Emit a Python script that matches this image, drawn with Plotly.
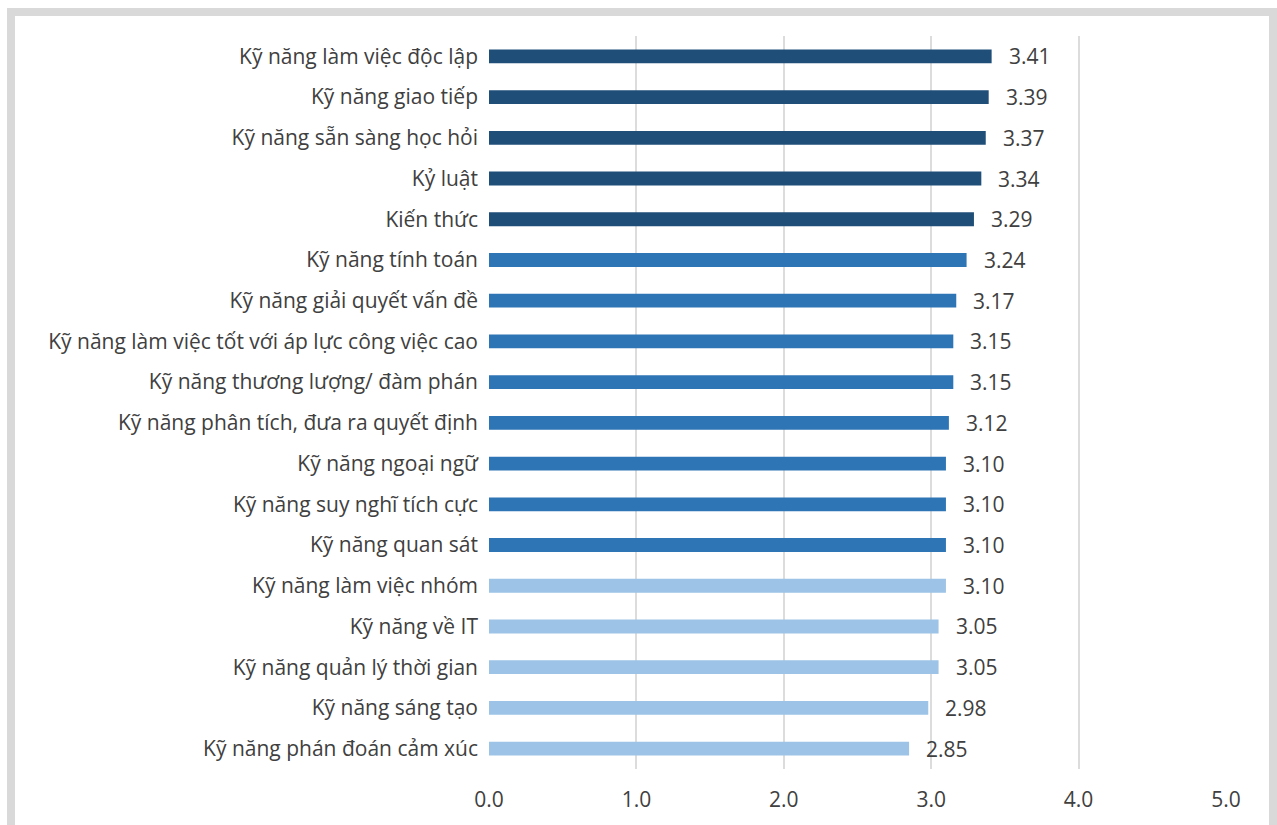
import plotly.graph_objects as go

categories = [
    "Kỹ năng làm việc độc lập",
    "Kỹ năng giao tiếp",
    "Kỹ năng sẵn sàng học hỏi",
    "Kỷ luật",
    "Kiến thức",
    "Kỹ năng tính toán",
    "Kỹ năng giải quyết vấn đề",
    "Kỹ năng làm việc tốt với áp lực công việc cao",
    "Kỹ năng thương lượng/ đàm phán",
    "Kỹ năng phân tích, đưa ra quyết định",
    "Kỹ năng ngoại ngữ",
    "Kỹ năng suy nghĩ tích cực",
    "Kỹ năng quan sát",
    "Kỹ năng làm việc nhóm",
    "Kỹ năng về IT",
    "Kỹ năng quản lý thời gian",
    "Kỹ năng sáng tạo",
    "Kỹ năng phán đoán cảm xúc",
]
values = [3.41, 3.39, 3.37, 3.34, 3.29, 3.24, 3.17, 3.15, 3.15, 3.12,
          3.10, 3.10, 3.10, 3.10, 3.05, 3.05, 2.98, 2.85]
groups = [0]*5 + [1]*8 + [2]*5
group_colors = ["#1f4e79", "#2e75b6", "#9dc3e6"]
x_ticks = [0, 1, 2, 3, 4, 5]

W, H = 1277, 825
ML, MR, MT, MB = 489, 51, 36, 54
PW, PH = W - ML - MR, H - MT - MB

font = "Open Sans, Noto Sans, sans-serif"
txt = "#404040"
fs = 21

fig = go.Figure(go.Bar(
    x=values, y=categories, orientation="h",
    marker=dict(color=[group_colors[g] for g in groups], line=dict(width=0)),
    width=0.34,
    hoverinfo="x+y",
))

for c, v in zip(categories, values):
    fig.add_annotation(x=v, y=c, text=f"{v:.2f}", showarrow=False,
                       xanchor="left", xshift=15,
                       font=dict(family=font, size=fs, color=txt))

def px_x(p):
    return (p - ML) / PW

def px_y(p):
    return (H - MB - p) / PH

fig.add_shape(type="rect", xref="paper", yref="paper",
              x0=px_x(11), x1=px_x(1273), y0=px_y(840), y1=px_y(12),
              line=dict(color="#d9d9d9", width=8), fillcolor="rgba(0,0,0,0)",
              layer="below")

fig.update_layout(
    width=W, height=H,
    margin=dict(l=ML, r=MR, t=MT, b=MB, pad=0),
    paper_bgcolor="white", plot_bgcolor="white",
    showlegend=False,
    font=dict(family=font, size=fs, color=txt),
    xaxis=dict(range=[0, 5], tickvals=x_ticks, ticktext=[f"{t:.1f}" for t in x_ticks],
               showgrid=True, gridcolor="#dcdcdc", gridwidth=1.5,
               zeroline=False, showline=False, ticks="", ticklabelstandoff=16,
               tickfont=dict(family=font, size=fs, color=txt)),
    yaxis=dict(autorange="reversed", showgrid=False, zeroline=False, showline=False,
               ticks="", ticklabelstandoff=10,
               tickfont=dict(family=font, size=fs, color=txt)),
)

fig.write_html("out.html")
